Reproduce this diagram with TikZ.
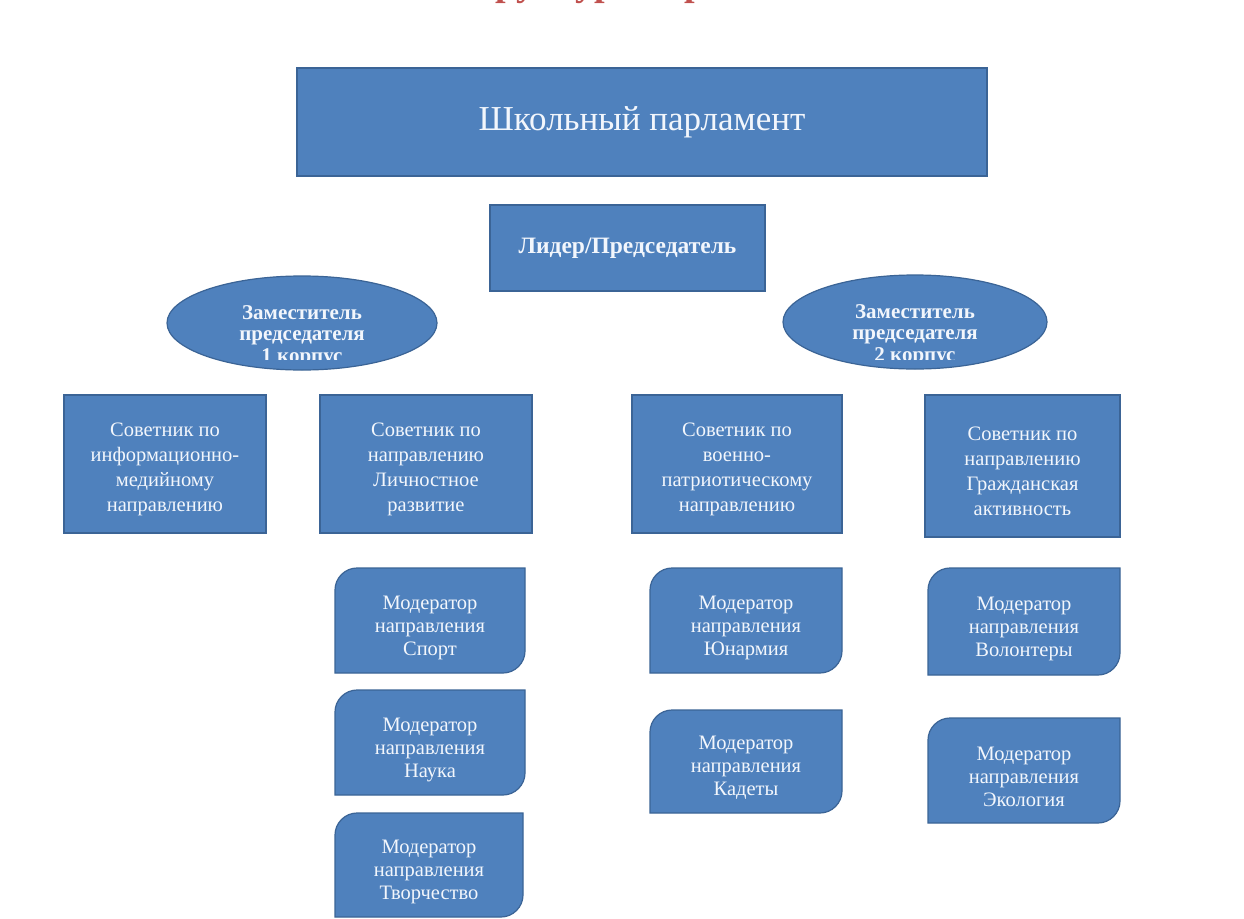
\documentclass[tikz,border=0pt]{standalone}
\usepackage{fontspec}
\setmainfont{Liberation Serif}
\usetikzlibrary{shapes.geometric}
\definecolor{boxblue}{HTML}{4F81BD}
\definecolor{boxedge}{HTML}{3B6496}
\definecolor{txt}{HTML}{F2F6FC}
\definecolor{titlered}{HTML}{C0504D}
\newcommand\mymod[4]{%
  \filldraw[modstyle] (#1,#4) -- (#1,{#2+22}) .. controls (#1,{#2+10}) and ({#1+10},#2) .. ({#1+22},#2)
    -- (#3,#2) -- (#3,{#4-22}) .. controls (#3,{#4-10}) and ({#3-10},#4) .. ({#3-22},#4) -- cycle;}
\tikzset{
  bluebox/.style={draw=boxedge, line width=1.2pt, fill=boxblue, text=txt, align=center, inner sep=0pt},
  modstyle/.style={draw=boxedge, line width=1.2pt, fill=boxblue},
  advtext/.style={text=txt, align=center, inner sep=0pt, font=\fontsize{20.5}{25}\selectfont},
  modtext/.style={text=txt, align=center, inner sep=0pt, font=\fontsize{20.5}{23}\selectfont},
  ovaltext/.style={text=txt, align=center, inner sep=0pt, font=\bfseries\fontsize{21}{21.5}\selectfont},
}
\begin{document}
\begin{tikzpicture}[x=1pt, y=-1pt]
\useasboundingbox (0,0) rectangle (1244,918);
\fill[white] (0,0) rectangle (1244,918);

% cut-off title
\node[anchor=base, text=titlered, inner sep=0pt, font=\bfseries\fontsize{38}{44}\selectfont] (title) at (649,-5) {Структура парламента};

% main boxes
\node[bluebox, minimum width=690pt, minimum height=108pt, font=\fontsize{35}{40}\selectfont] (parl) at (642,122) {Школьный парламент};
\node[bluebox, minimum width=275pt, minimum height=86pt, font=\bfseries\fontsize{23.5}{27}\selectfont] (lead) at (627.5,248) {Лидер/Председатель};

% deputies
\node[ellipse, draw=boxedge, line width=1.2pt, fill=boxblue, minimum width=270pt, minimum height=94pt] (dep1) at (302,323) {};
\node[ellipse, draw=boxedge, line width=1.2pt, fill=boxblue, minimum width=264pt, minimum height=94pt] (dep2) at (915,322) {};
\begin{scope}
\clip (0,0) rectangle (1244,359);
\node[ovaltext] (dep1t) at (dep1.center) [yshift=-13pt] {Заместитель\\председателя\\1 корпус};
\node[ovaltext] (dep2t) at (dep2.center) [yshift=-13pt] {Заместитель\\председателя\\2 корпус};
\end{scope}

% advisers
\node[bluebox, minimum width=202pt, minimum height=138pt] (adv1) at (165,464) {};
\node[bluebox, minimum width=212pt, minimum height=138pt] (adv2) at (426,464) {};
\node[bluebox, minimum width=210pt, minimum height=138pt] (adv3) at (737,464) {};
\node[bluebox, minimum width=195pt, minimum height=142pt] (adv4) at (1022.5,466) {};
\node[advtext] (adv1t) at (165,469.5) {Советник по\\информационно-\\медийному\\направлению};
\node[advtext] (adv2t) at (426,469.5) {Советник по\\направлению\\Личностное\\развитие};
\node[advtext] (adv3t) at (737,469.5) {Советник по\\военно-\\патриотическому\\направлению};
\node[advtext] (adv4t) at (1022.5,471.5) {Советник по\\направлению\\Гражданская\\активность};

% moderators
\mymod{335}{568}{525}{673}
\mymod{335}{690}{525}{795}
\mymod{335}{813}{523}{917}
\mymod{650}{568}{842}{673}
\mymod{650}{710}{842}{813}
\mymod{928}{568}{1120}{675}
\mymod{928}{718}{1120}{823}
\node[modtext] (m1) at (430,627.5) {Модератор\\направления\\Спорт};
\node[modtext] (m2) at (430,749.5) {Модератор\\направления\\Наука};
\node[modtext] (m3) at (429,872) {Модератор\\направления\\Творчество};
\node[modtext] (m4) at (746,627.5) {Модератор\\направления\\Юнармия};
\node[modtext] (m5) at (746,768) {Модератор\\направления\\Кадеты};
\node[modtext] (m6) at (1024,628.5) {Модератор\\направления\\Волонтеры};
\node[modtext] (m7) at (1024,777) {Модератор\\направления\\Экология};
\end{tikzpicture}
\end{document}
